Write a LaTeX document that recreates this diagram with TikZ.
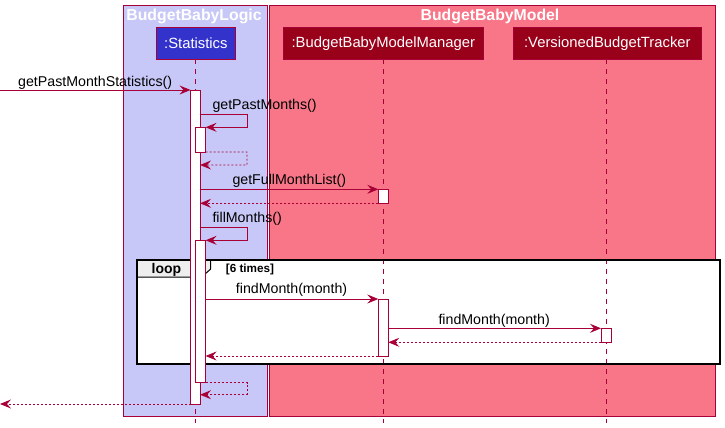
\documentclass[tikz,border=0pt]{standalone}
\usepackage{fontspec}
\setmainfont{Liberation Sans}
\usetikzlibrary{arrows.meta}
\definecolor{logicfill}{RGB}{200,200,248}
\definecolor{modelfill}{RGB}{248,118,136}
\definecolor{crim}{RGB}{168,0,54}
\definecolor{statfill}{RGB}{51,51,204}
\definecolor{darkred}{RGB}{153,0,26}
\definecolor{tabgray}{RGB}{238,238,238}
\begin{document}
\begin{tikzpicture}[x=1pt,y=-1pt,
  grp/.style={draw=crim,line width=1pt,inner sep=0pt,outer sep=0pt,anchor=north west},
  grptitle/.style={text=white,font=\fontsize{15.8}{18}\selectfont\bfseries,anchor=base,inner sep=0pt},
  part/.style={draw=crim,line width=1pt,text=white,font=\fontsize{14.8}{17}\selectfont,minimum height=32pt,inner sep=0pt,anchor=north west},
  life/.style={draw=crim,line width=0.8pt,dash pattern=on 5pt off 5pt},
  act/.style={draw=crim,fill=white,line width=1pt,minimum width=10pt,inner sep=0pt,outer sep=0pt,anchor=north},
  msg/.style={draw=crim,line width=0.9pt,-{Stealth[length=11pt,width=9pt,inset=4pt]}},
  ret/.style={msg,dash pattern=on 2pt off 2pt},
  lbl/.style={anchor=base west,font=\fontsize{14.2}{16}\selectfont,inner sep=0pt},
]
\useasboundingbox (0,0) rectangle (725,428);
\fill[white] (0,0) rectangle (725,428);
% groups
\node[grp,fill=logicfill,minimum width=144.5pt,minimum height=410pt] (logic) at (123,6) {};
\node[grp,fill=modelfill,minimum width=446pt,minimum height=410pt] (model) at (269,6) {};
\node[grptitle] (logict) at (194,21) {BudgetBabyLogic};
\node[grptitle] (modelt) at (490,21) {BudgetBabyModel};
% participants
\node[part,fill=statfill,minimum width=79.3pt] (stat) at (155.7,27) {:Statistics};
\node[part,fill=darkred,minimum width=200.3pt] (mgr) at (282.7,27) {:BudgetBabyModelManager};
\node[part,fill=darkred,minimum width=188.3pt] (trk) at (512.7,27) {:VersionedBudgetTracker};
% loop frame background
\node[draw=none,fill=white,inner sep=0pt,outer sep=0pt,anchor=north west,minimum width=583pt,minimum height=104pt] (loop) at (137,260) {};
% lifelines
\draw[life] (195.5,59) -- (195.5,423);
\draw[life] (383.3,59) -- (383.3,423);
\draw[life] (606.5,59) -- (606.5,423);
% loop tab and frame
\draw[fill=tabgray,line width=1pt] (loop.north west) -- ++(73.7,0) -- ++(0,9) -- ++(-9,8) -- (loop.north west |- 0,277) -- cycle;
\draw[line width=2pt] (loop.north west) rectangle (loop.south east);
\node[anchor=base west,font=\fontsize{14}{16}\selectfont\bfseries,inner sep=0pt] (looplbl) at (151.5,273) {loop};
\node[anchor=base west,font=\fontsize{11.7}{13}\selectfont\bfseries,inner sep=0pt] (guard) at (225.7,272) {[6 times]};
% activations
\node[act,minimum width=9.5pt,minimum height=314pt] (s1) at (195.3,90) {};
\node[act,minimum height=24.7pt] (s2) at (200.6,127.3) {};
\node[act,minimum height=142.4pt] (s3) at (200.6,240.3) {};
\node[act,minimum height=14pt] (m1) at (383.3,189.3) {};
\node[act,minimum height=57pt] (m2) at (383.3,299) {};
\node[act,minimum height=14pt] (t1) at (606,328.3) {};
% messages
\coordinate (in) at (0,90);
\coordinate (out) at (0,404);
\draw[msg] (in) -- (s1.north west);
\node[lbl] (l1) at (18,86) {getPastMonthStatistics()};
\draw[msg] (s1.east |- 0,114) -- ++(47,0) -- ++(0,13.3) -- (s2.north east);
\node[lbl] (l2) at (212.3,109.3) {getPastMonths()};
\draw[ret] (s2.south east) -- ++(41.4,0) -- ++(0,13) -- (s1.east |- 0,165);
\draw[msg] (s1.east |- m1.north west) -- (m1.north west);
\node[lbl] (l3) at (232.3,184) {getFullMonthList()};
\draw[ret] (m1.south west) -- (s1.east |- m1.south west);
\draw[msg] (s1.east |- 0,227.3) -- ++(47,0) -- ++(0,13) -- (s3.north east);
\node[lbl] (l4) at (212.3,222.7) {fillMonths()};
\draw[msg] (s3.east |- m2.north west) -- (m2.north west);
\node[lbl] (l5) at (235.7,293.3) {findMonth(month)};
\draw[msg] (m2.east |- t1.north west) -- (t1.north west);
\node[lbl] (l6) at (438.3,324) {findMonth(month)};
\draw[ret] (t1.south west) -- (m2.east |- t1.south west);
\draw[ret] (m2.south west) -- (s3.east |- m2.south west);
\draw[ret] (s3.south east) -- ++(41.4,0) -- ++(0,12) -- (s1.east |- 0,394.7);
\draw[ret] (s1.south west) -- (out);
\end{tikzpicture}
\end{document}
